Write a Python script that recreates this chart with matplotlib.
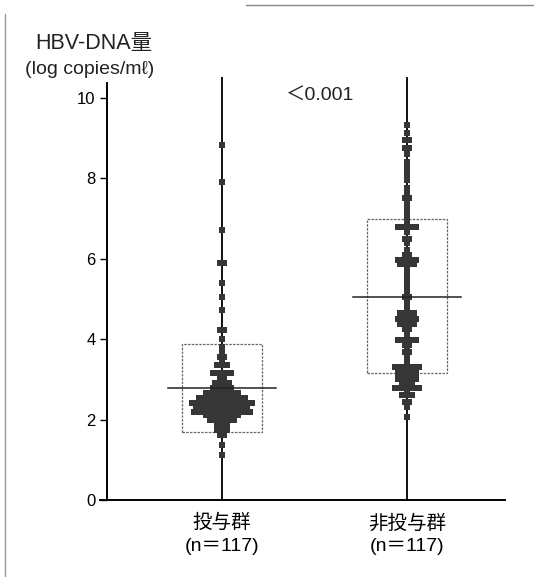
import numpy as np
import matplotlib.pyplot as plt
from matplotlib.lines import Line2D

plt.rcParams['font.family'] = ['Liberation Sans', 'Noto Sans CJK JP', 'DejaVu Sans']

groups = ['投与群\n(n＝117)', '非投与群\n(n＝117)']

# dot plot bins: (log copies/ml value, number of patients)
treated_vals = [8.83, 7.9, 6.72, 5.9, 5.4, 5.05, 4.73, 4.23, 4.0, 3.8, 3.68, 3.56, 3.46,
                3.36, 3.16, 3.03, 2.91, 2.79, 2.66, 2.54, 2.41, 2.31, 2.19, 2.11, 1.99,
                1.87, 1.74, 1.62, 1.37, 1.12]
treated_cnt = [1, 1, 1, 2, 1, 1, 1, 2, 1, 1, 1, 2, 1,
               3, 5, 2, 4, 5, 8, 11, 14, 12, 13, 8, 6,
               3, 3, 2, 1, 1]

untreated_vals = [9.33, 9.13, 8.96, 8.76, 8.6, 8.41, 8.26, 8.1, 7.96, 7.76, 7.65, 7.51, 7.39,
                  7.3, 7.21, 7.09, 6.95, 6.79, 6.67, 6.5, 6.39, 6.22, 6.1, 5.97, 5.87, 5.72,
                  5.62, 5.55, 5.45, 5.35, 5.2, 5.05, 4.9, 4.85, 4.78, 4.65, 4.5, 4.38, 4.25,
                  4.18, 4.05, 3.98, 3.85, 3.78, 3.68, 3.53, 3.4, 3.3, 3.2, 3.1, 3.0, 2.9,
                  2.79, 2.7, 2.61, 2.44, 2.31, 2.06]
untreated_cnt = [1, 1, 2, 2, 1, 1, 1, 1, 1, 1, 1, 2, 1,
                 1, 1, 1, 1, 5, 1, 2, 1, 1, 2, 5, 4, 1,
                 1, 1, 1, 1, 1, 2, 1, 1, 1, 4, 5, 4, 2,
                 1, 1, 5, 2, 1, 2, 1, 1, 6, 5, 5, 5, 3,
                 6, 1, 3, 2, 1, 1]

box_low = [1.69, 3.16]
box_high = [3.88, 6.99]
medians = [2.79, 5.05]
p_text = '＜0.001'

fig = plt.figure(figsize=(5.34, 5.77), dpi=100)
ax = fig.add_axes([0.200, 0.1334, 0.746, 0.7226])

pos = [1, 2]
step = 0.025
for p, vals, cnts in [(1, treated_vals, treated_cnt), (2, untreated_vals, untreated_cnt)]:
    xs, ys = [], []
    for v, c in zip(vals, cnts):
        xs += list(p + (np.arange(c) - (c - 1) / 2) * step)
        ys += [v] * c
    ax.plot([p, p], [0, 10.5], color='#111111', lw=1.4, zorder=2, clip_on=False)
    ax.scatter(xs, ys, marker='s', s=16, color='#363636', linewidths=0, zorder=3)

for i, p in enumerate(pos):
    ax.add_patch(plt.Rectangle((p - 0.216, box_low[i]), 0.432, box_high[i] - box_low[i],
                               fill=False, ec='#666666', lw=0.9, ls=(0, (2, 1)), zorder=1))
    ax.plot([p - 0.29, p + 0.29], [medians[i]] * 2, color='#222222', lw=1.1, zorder=4)

ax.text(1.53, 10.05, p_text, ha='center', va='center', fontsize=14, color='#222222')

ax.set_xlim(0.378, 2.53)
ax.set_ylim(0, 10.37)
ax.set_yticks([0, 2, 4, 6, 8, 10])
ax.set_xticks(pos)
ax.set_xticklabels(groups, fontsize=14, linespacing=1.45)
ax.tick_params(axis='x', length=0, pad=10)
ax.tick_params(axis='y', length=5, width=1, labelsize=12, pad=3)
for s in ['top', 'right']:
    ax.spines[s].set_visible(False)
ax.spines['left'].set_linewidth(1.4)
ax.spines['bottom'].set_linewidth(1.4)
ax.spines['bottom'].set_bounds(0.34, 2.53)

fig.text(0.175, 0.924, 'HBV-DNA量', ha='center', va='center', fontsize=15.5, color='#222222')
fig.text(0.167, 0.879, '(log copies/mℓ)', ha='center', va='center', fontsize=14, color='#222222')

# faint border left by the scan
fig.add_artist(Line2D([0.009, 0.009], [0.0, 0.975], color='#999999', lw=1))
fig.add_artist(Line2D([0.46, 1.0], [0.991, 0.991], color='#888888', lw=1))

fig.savefig('out.png', dpi=100)
